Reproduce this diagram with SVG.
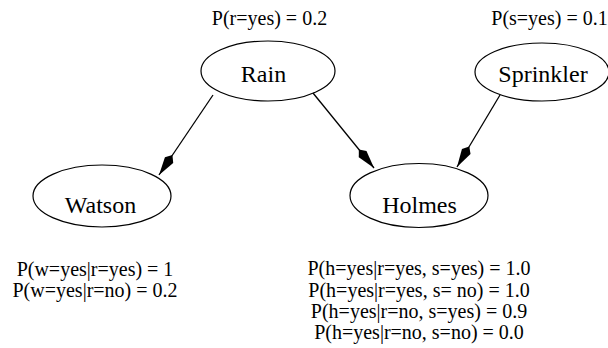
<svg xmlns="http://www.w3.org/2000/svg" width="608" height="348" viewBox="0 0 608 348" font-family="'Liberation Serif', 'Times New Roman', serif">
<style>
.node ellipse{fill:none;stroke:#000;stroke-width:1.2}
text{font-family:'Liberation Serif','Times New Roman',serif;fill:#000;text-anchor:middle}
.lbl{font-size:24px}
.cpt{font-size:20px}
.edge{stroke:#000;stroke-width:1.3;fill:none;marker-end:url(#head)}
</style>
<defs>
<marker id="head" viewBox="-1 -6 26 12" refX="24" refY="0" markerWidth="26" markerHeight="12" markerUnits="userSpaceOnUse" orient="auto">
<path d="M24,0 L6,-5 L0,0 L6,5 Z" fill="#000"/>
</marker>
</defs>
<rect width="608" height="348" fill="#fff"/>
<g id="edges">
<line class="edge" x1="213" y1="95" x2="159" y2="175"/>
<line class="edge" x1="313" y1="93" x2="374" y2="168"/>
<line class="edge" x1="500" y1="95" x2="457" y2="167"/>
</g>
<g id="rain" class="node">
<ellipse cx="268" cy="71" rx="67" ry="30"/>
<text class="lbl" x="263.5" y="82">Rain</text>
<text class="cpt" x="269.5" y="25">P(r=yes) = 0.2</text>
</g>
<g id="sprinkler" class="node">
<ellipse cx="542" cy="72" rx="67" ry="29"/>
<text class="lbl" x="543" y="82">Sprinkler</text>
<text class="cpt" x="549.5" y="25">P(s=yes) = 0.1</text>
</g>
<g id="watson" class="node">
<ellipse cx="102" cy="196" rx="69" ry="31"/>
<text class="lbl" x="100.5" y="213">Watson</text>
<text class="cpt" x="95" y="276">P(w=yes|r=yes) = 1</text>
<text class="cpt" x="95" y="297">P(w=yes|r=no) = 0.2</text>
</g>
<g id="holmes" class="node">
<ellipse cx="419" cy="195.5" rx="69" ry="32"/>
<text class="lbl" x="419.5" y="213">Holmes</text>
<text class="cpt" x="419" y="275">P(h=yes|r=yes, s=yes) = 1.0</text>
<text class="cpt" x="419" y="297">P(h=yes|r=yes, s= no) = 1.0</text>
<text class="cpt" x="419" y="318">P(h=yes|r=no, s=yes) = 0.9</text>
<text class="cpt" x="419" y="339">P(h=yes|r=no, s=no) = 0.0</text>
</g>
</svg>
